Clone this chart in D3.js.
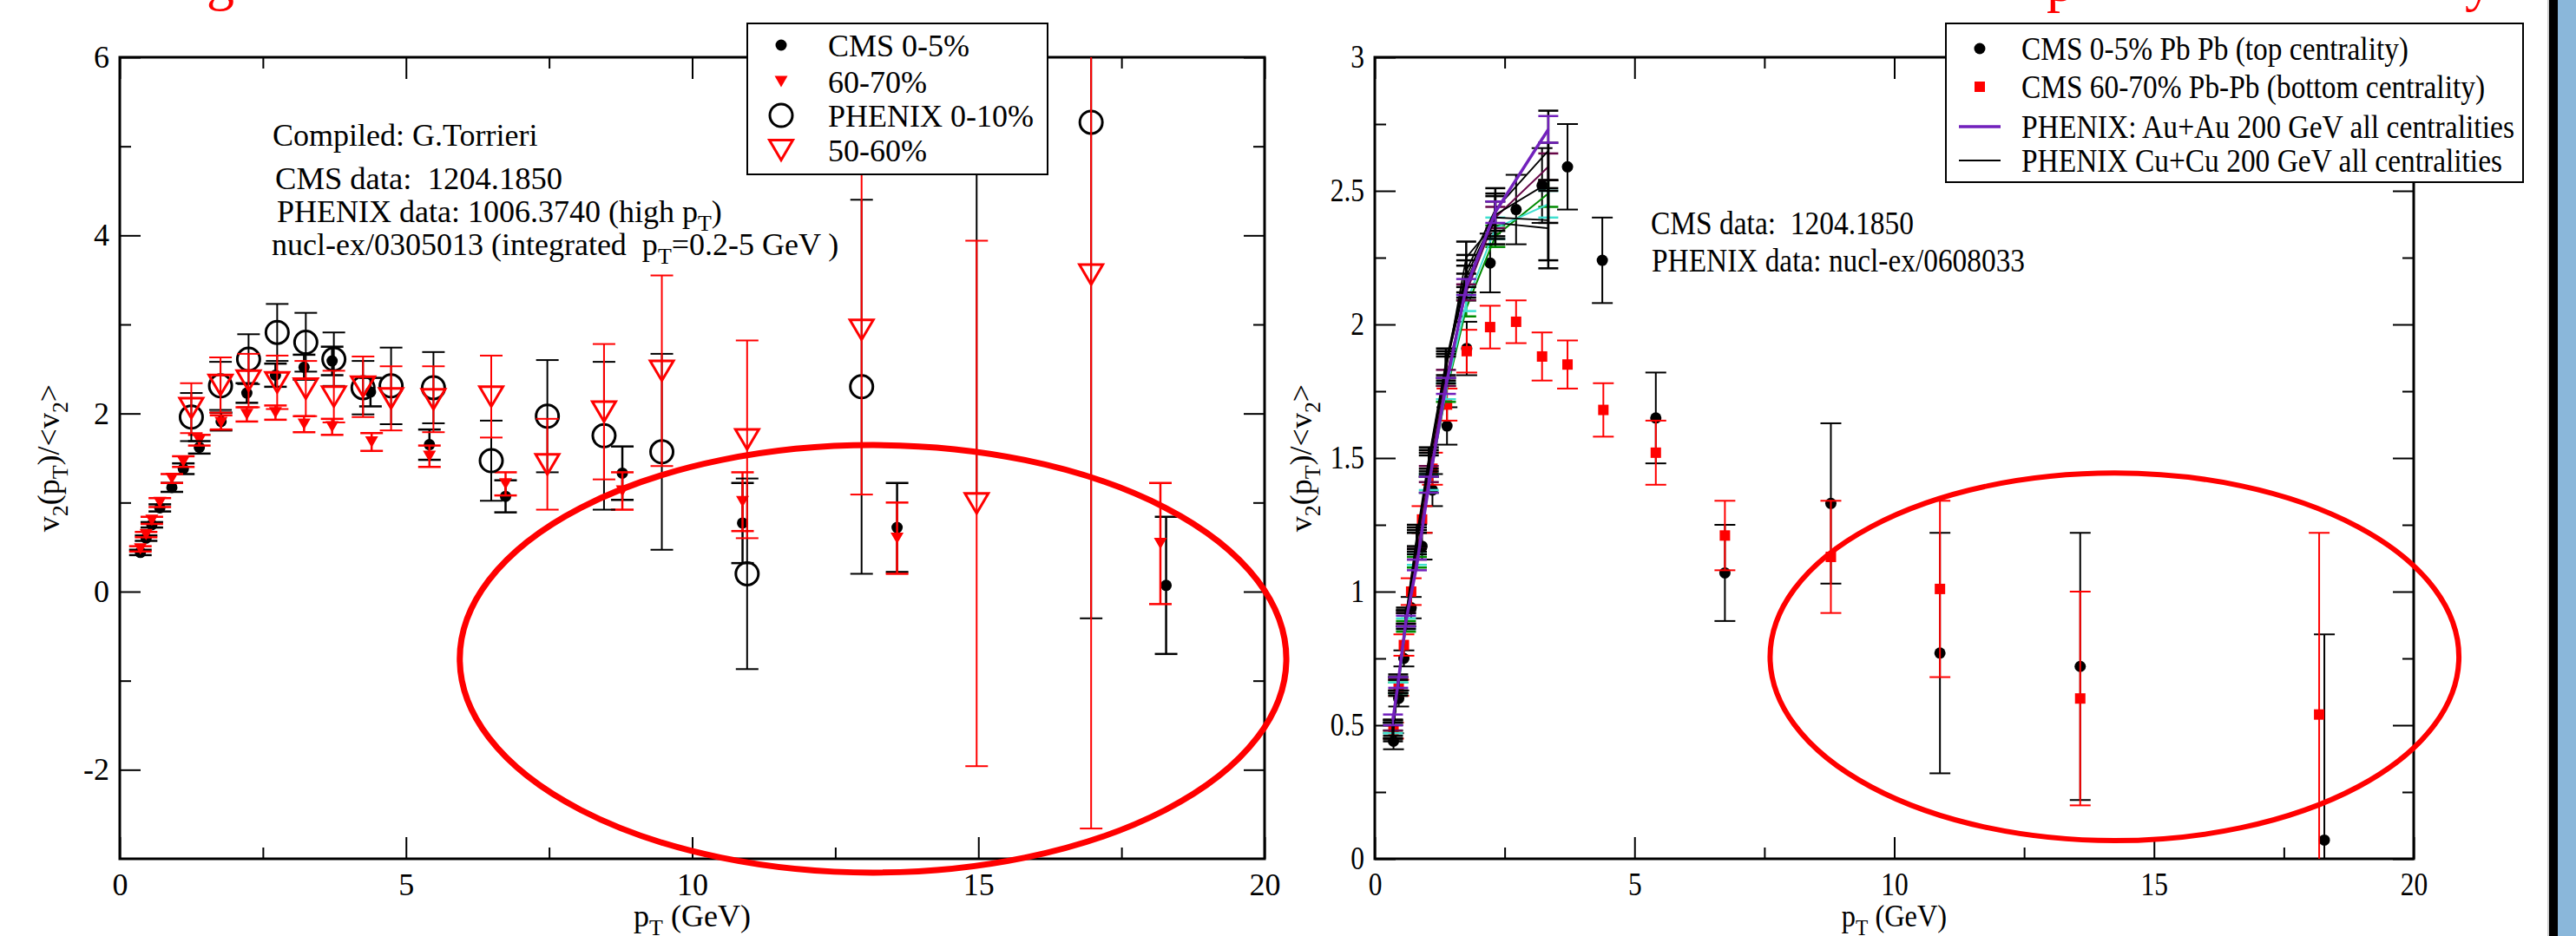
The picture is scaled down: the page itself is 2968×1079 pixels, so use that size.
<!DOCTYPE html>
<html>
<head>
<meta charset="utf-8">
<script src="https://cdn.jsdelivr.net/npm/d3@7"></script>
<style>
  body { margin: 0; background: #fff; }
  svg, svg text { font-family: "Liberation Serif", "Times New Roman", Times, "DejaVu Serif", serif; }
  text { white-space: pre; }
</style>
</head>
<body>
<svg id="chart" width="2968" height="1079" font-family="Liberation Serif"></svg>
<script>
'use strict';

// axis ticks
const xTicks = [0, 5, 10, 15, 20];
const xMinor = [2.5, 7.5, 12.5, 17.5];
const leftYTicks = [-2, 0, 2, 4, 6];
const leftYMinor = [-1, 1, 3, 5];
const rightYTicks = [0, 0.5, 1, 1.5, 2, 2.5, 3];
const rightYMinor = [0.25, 0.75, 1.25, 1.75, 2.25, 2.75];

// CMS points (same data in both panels)
const cmsPt = [0.36, 0.46, 0.56, 0.70, 0.91, 1.11, 1.39, 1.77, 2.22, 2.72, 3.22, 3.71, 4.38, 5.41, 6.74, 8.78, 10.88, 13.58, 18.28];
const cms05 = [0.44, 0.60, 0.75, 0.94, 1.17, 1.38, 1.62, 1.91, 2.23, 2.43, 2.52, 2.59, 2.24, 1.65, 1.07, 1.33, 0.77, 0.72, 0.07];
const cms05Err = [0.03, 0.03, 0.03, 0.04, 0.05, 0.06, 0.07, 0.10, 0.11, 0.13, 0.14, 0.16, 0.16, 0.17, 0.18, 0.30, 0.45, 0.50, 0.77];
const cms6070Pt = [0.36, 0.46, 0.56, 0.70, 0.91, 1.11, 1.39, 1.77, 2.22, 2.72, 3.22, 3.71, 4.40, 5.41, 6.74, 8.78, 10.88, 13.58, 18.18];
const cms6070 = [0.48, 0.64, 0.80, 1.00, 1.27, 1.46, 1.70, 1.90, 1.99, 2.01, 1.88, 1.85, 1.68, 1.52, 1.21, 1.13, 1.01, 0.60, 0.54];
const cms6070Err = [0.03, 0.03, 0.04, 0.05, 0.05, 0.06, 0.06, 0.08, 0.08, 0.08, 0.09, 0.09, 0.10, 0.12, 0.13, 0.21, 0.33, 0.40, 0.68];

// PHENIX (left panel)
const phxPt = [1.25, 1.76, 2.25, 2.75, 3.25, 3.74, 4.25, 4.74, 5.48, 6.49, 7.47, 8.46, 9.47, 10.96, 12.96, 14.97, 16.97];
const phx010 = [1.96, 2.31, 2.61, 2.91, 2.80, 2.61, 2.29, 2.31, 2.29, 1.47, 1.97, 1.75, 1.57, 0.20, 2.30, 7.50, 5.27];
const phx010Err = [0.27, 0.27, 0.28, 0.32, 0.33, 0.30, 0.30, 0.43, 0.40, 0.45, 0.63, 0.83, 1.10, 1.07, 2.10, 6.40, 5.57];
const phx5060 = [2.06, 2.32, 2.37, 2.35, 2.28, 2.19, 2.30, 2.17, 2.16, 2.19, 1.43, 2.02, 2.48, 1.71, 2.94, 0.99, 3.56];
const phx5060Err = [0.28, 0.31, 0.30, 0.30, 0.31, 0.29, 0.34, 0.36, 0.37, 0.46, 0.51, 0.76, 1.07, 1.11, 1.85, 2.95, 6.22];

// PHENIX centrality curves (right panel)
const curvePt = [0.35, 0.45, 0.60, 0.81, 1.04, 1.37, 1.76, 2.32, 3.34];
const auauIndigo = [0.52, 0.66, 0.89, 1.10, 1.40, 1.77, 2.14, 2.42, 2.73];
const auauMaroon = [0.50, 0.65, 0.90, 1.14, 1.44, 1.80, 2.12, 2.40, 2.59];
const auauTurq = [0.49, 0.64, 0.88, 1.12, 1.41, 1.75, 2.08, 2.36, 2.45];
const auauGreen = [0.50, 0.64, 0.87, 1.11, 1.40, 1.74, 2.06, 2.33, 2.49];
const auauErr = [0.02, 0.02, 0.02, 0.02, 0.03, 0.03, 0.03, 0.04, 0.05];
const cucuA = [0.48, 0.66, 0.91, 1.21, 1.50, 1.86, 2.20, 2.43, 2.65];
const cucuB = [0.49, 0.65, 0.90, 1.20, 1.48, 1.84, 2.18, 2.41, 2.53];
const cucuC = [0.47, 0.64, 0.90, 1.19, 1.47, 1.83, 2.25, 2.38, 2.36];
const cucuD = [0.48, 0.65, 0.89, 1.18, 1.49, 1.85, 2.16, 2.40, 2.39];
const cucuErr = [0.03, 0.03, 0.03, 0.04, 0.04, 0.05, 0.06, 0.08, 0.15];

const FONT = 'Liberation Serif';
const svg = d3.select('#chart');
const defs = svg.append('defs');

const xL = d3.scaleLinear().domain([0, 20]).range([138, 1457]);
const yL = d3.scaleLinear().domain([-3, 6]).range([990, 66]);
const xR = d3.scaleLinear().domain([0, 20]).range([1584, 2781]);
const yR = d3.scaleLinear().domain([0, 3]).range([990, 66]);

function clipFor(id, x, y) {
    defs.append('clipPath').attr('id', id).append('rect')
        .attr('x', x.range()[0]).attr('y', y.range()[1])
        .attr('width', x.range()[1] - x.range()[0])
        .attr('height', y.range()[0] - y.range()[1]);
}
clipFor('clipL', xL, yL);
clipFor('clipR', xR, yR);

// text with subscripts, parts = [[str, isSub], ...]
function richText(sel, parts, size) {
    let down = false;
    sel.attr('font-family', FONT);
    parts.forEach(function (p) {
        const t = sel.append('tspan').text(p[0]);
        if (p[1]) {
            t.attr('font-size', size * 0.72);
            if (!down) { t.attr('dy', size * 0.28); down = true; }
        } else if (down) {
            t.attr('dy', -size * 0.28);
            down = false;
        }
    });
}

// the right graph was squeezed sideways on the slide
function squeeze(sel, k) {
    sel.each(function () {
        const w = this.getComputedTextLength();
        d3.select(this).attr('textLength', w * k).attr('lengthAdjust', 'spacingAndGlyphs');
    });
}

function styleAxis(g, size) {
    g.select('.domain').remove();
    g.attr('font-family', FONT).attr('font-size', size);
    g.selectAll('.tick line').attr('stroke', '#000').attr('stroke-width', 2);
    g.selectAll('.tick text').attr('fill', '#000').attr('font-family', FONT);
}

function drawAxes(x, y, yMajor, yMinor, size, k) {
    const left = x.range()[0], right = x.range()[1], top = y.range()[1], bottom = y.range()[0];
    const fmt = function (d) { return String(d); };
    const g = svg.append('g');

    g.append('g').attr('transform', 'translate(0,' + bottom + ')')
        .call(d3.axisBottom(x).tickValues(xTicks).tickSize(-25).tickSizeOuter(0).tickPadding(16).tickFormat(fmt))
        .call(styleAxis, size);
    g.append('g').attr('transform', 'translate(0,' + bottom + ')')
        .call(d3.axisBottom(x).tickValues(xMinor).tickSize(-13).tickSizeOuter(0).tickFormat(''))
        .call(styleAxis, size);
    g.append('g').attr('transform', 'translate(0,' + top + ')')
        .call(d3.axisTop(x).tickValues(xTicks).tickSize(-25).tickSizeOuter(0).tickFormat(''))
        .call(styleAxis, size);
    g.append('g').attr('transform', 'translate(0,' + top + ')')
        .call(d3.axisTop(x).tickValues(xMinor).tickSize(-13).tickSizeOuter(0).tickFormat(''))
        .call(styleAxis, size);

    g.append('g').attr('transform', 'translate(' + left + ',0)')
        .call(d3.axisLeft(y).tickValues(yMajor).tickSize(-24).tickSizeOuter(0).tickPadding(12).tickFormat(fmt))
        .call(styleAxis, size);
    g.append('g').attr('transform', 'translate(' + left + ',0)')
        .call(d3.axisLeft(y).tickValues(yMinor).tickSize(-13).tickSizeOuter(0).tickFormat(''))
        .call(styleAxis, size);
    g.append('g').attr('transform', 'translate(' + right + ',0)')
        .call(d3.axisRight(y).tickValues(yMajor).tickSize(-24).tickSizeOuter(0).tickFormat(''))
        .call(styleAxis, size);
    g.append('g').attr('transform', 'translate(' + right + ',0)')
        .call(d3.axisRight(y).tickValues(yMinor).tickSize(-13).tickSizeOuter(0).tickFormat(''))
        .call(styleAxis, size);

    if (k !== 1) squeeze(g.selectAll('.tick text').filter(function () { return this.textContent !== ''; }), k);

    g.append('rect').attr('x', left).attr('y', top)
        .attr('width', right - left).attr('height', bottom - top)
        .attr('fill', 'none').attr('stroke', '#000').attr('stroke-width', 3);
}

function axisTitles(x, y, yTitleX, size, k) {
    const xt = svg.append('text').attr('x', (x.range()[0] + x.range()[1]) / 2).attr('y', 1068)
        .attr('text-anchor', 'middle').attr('font-size', size);
    richText(xt, [['p', false], ['T', true], [' (GeV)', false]], size);
    if (k !== 1) squeeze(xt, k);
    const yt = svg.append('text')
        .attr('transform', 'translate(' + yTitleX + ',' + (y.range()[0] + y.range()[1]) / 2 + ') rotate(-90)')
        .attr('text-anchor', 'middle').attr('font-size', size);
    richText(yt, [['v', false], ['2', true], ['(p', false], ['T', true], [')/<v', false], ['2', true], ['>', false]], size);
}

function rows(xs, ys, es) {
    return xs.map(function (d, i) { return [d, ys[i], es ? es[i] : 0]; });
}

function errorBars(g, x, y, data, color, cap, width) {
    const eb = g.append('g').attr('stroke', color).attr('stroke-width', width).attr('fill', 'none');
    const one = eb.selectAll(null).data(data).enter().append('g');
    one.append('line')
        .attr('x1', function (d) { return x(d[0]); }).attr('x2', function (d) { return x(d[0]); })
        .attr('y1', function (d) { return y(d[1] - d[2]); }).attr('y2', function (d) { return y(d[1] + d[2]); });
    [1, -1].forEach(function (s) {
        one.append('line')
            .attr('x1', function (d) { return x(d[0]) - cap / 2; }).attr('x2', function (d) { return x(d[0]) + cap / 2; })
            .attr('y1', function (d) { return y(d[1] + s * d[2]); }).attr('y2', function (d) { return y(d[1] + s * d[2]); });
    });
}

function triDown(w, h) {
    return 'M' + (-w / 2) + ',' + (-h / 2) + 'L' + (w / 2) + ',' + (-h / 2) + 'L0,' + (h / 2) + 'Z';
}

function markers(g, x, y, data, kind) {
    const sel = g.selectAll(null).data(data).enter();
    if (kind === 'dot') {
        sel.append('circle').attr('cx', function (d) { return x(d[0]); }).attr('cy', function (d) { return y(d[1]); })
            .attr('r', 6.5).attr('fill', '#000');
    } else if (kind === 'ring') {
        sel.append('circle').attr('cx', function (d) { return x(d[0]); }).attr('cy', function (d) { return y(d[1]); })
            .attr('r', 13).attr('fill', 'none').attr('stroke', '#000').attr('stroke-width', 3);
    } else if (kind === 'tri') {
        sel.append('path').attr('d', triDown(15, 13)).attr('fill', '#ff0000')
            .attr('transform', function (d) { return 'translate(' + x(d[0]) + ',' + y(d[1]) + ')'; });
    } else if (kind === 'otri') {
        sel.append('path').attr('d', triDown(27, 23)).attr('fill', 'none').attr('stroke', '#ff0000').attr('stroke-width', 3)
            .attr('transform', function (d) { return 'translate(' + x(d[0]) + ',' + y(d[1]) + ')'; });
    } else if (kind === 'square') {
        sel.append('rect').attr('x', function (d) { return x(d[0]) - 6; }).attr('y', function (d) { return y(d[1]) - 6; })
            .attr('width', 12).attr('height', 12).attr('fill', '#ff0000');
    }
}

// ---------- left panel ----------
drawAxes(xL, yL, leftYTicks, leftYMinor, 36, 1);
axisTitles(xL, yL, 68, 36, 1);

const plotL = svg.append('g').attr('clip-path', 'url(#clipL)');
const cms05Rows = rows(cmsPt, cms05, cms05Err);
const cms6070Rows = rows(cms6070Pt, cms6070, cms6070Err);
const phx010Rows = rows(phxPt, phx010, phx010Err);
const phx5060Rows = rows(phxPt, phx5060, phx5060Err);

errorBars(plotL, xL, yL, cms05Rows, '#000', 26, 2.5);
markers(plotL, xL, yL, cms05Rows, 'dot');
errorBars(plotL, xL, yL, cms6070Rows, '#ff0000', 26, 2.5);
markers(plotL, xL, yL, cms6070Rows, 'tri');
errorBars(plotL, xL, yL, phx010Rows, '#000', 26, 2);
markers(plotL, xL, yL, phx010Rows, 'ring');
errorBars(plotL, xL, yL, phx5060Rows, '#ff0000', 26, 2);
markers(plotL, xL, yL, phx5060Rows, 'otri');

// notes
const notesL = svg.append('g').attr('font-size', 36).attr('font-family', FONT).attr('fill', '#000');
notesL.append('text').attr('x', 314).attr('y', 168).attr('font-family', FONT).text('Compiled: G.Torrieri');
notesL.append('text').attr('x', 317).attr('y', 218).attr('font-family', FONT)
    .attr('textLength', 331).attr('lengthAdjust', 'spacingAndGlyphs')
    .text('CMS data:  1204.1850');
richText(notesL.append('text').attr('x', 319).attr('y', 256),
    [['PHENIX data: 1006.3740 (high p', false], ['T', true], [')', false]], 36);
richText(notesL.append('text').attr('x', 313).attr('y', 294),
    [['nucl-ex/0305013 (integrated  p', false], ['T', true], ['=0.2-5 GeV )', false]], 36);

// legend
const legL = svg.append('g');
legL.append('rect').attr('x', 861).attr('y', 27).attr('width', 346).attr('height', 174)
    .attr('fill', '#fff').attr('stroke', '#000').attr('stroke-width', 2);
const legLItems = [['CMS 0-5%', 'dot', 52], ['60-70%', 'tri', 94], ['PHENIX 0-10%', 'ring', 133], ['50-60%', 'otri', 173]];
legLItems.forEach(function (it) {
    const sx = d3.scaleLinear().domain([0, 1]).range([900, 901]);
    const sy = d3.scaleLinear().domain([0, 1]).range([it[2], it[2] + 1]);
    markers(legL, sx, sy, [[0, 0, 0]], it[1]);
    legL.append('text').attr('x', 954).attr('y', it[2]).attr('dy', '0.35em')
        .attr('font-family', FONT).attr('font-size', 36).text(it[0]);
});

// ---------- right panel ----------
drawAxes(xR, yR, rightYTicks, rightYMinor, 37, 0.85);
axisTitles(xR, yR, 1511, 36, 0.9);

const plotR = svg.append('g').attr('clip-path', 'url(#clipR)');
errorBars(plotR, xR, yR, cms05Rows, '#000', 24, 2);
markers(plotR, xR, yR, cms05Rows, 'dot');
errorBars(plotR, xR, yR, cms6070Rows, '#ff0000', 24, 2);
markers(plotR, xR, yR, cms6070Rows, 'square');

const curves = [
    [auauGreen, auauErr, '#008b00', 2],
    [auauTurq, auauErr, '#40e0d0', 2],
    [auauMaroon, auauErr, '#670748', 2],
    [cucuA, cucuErr, '#000', 1.8],
    [cucuB, cucuErr, '#000', 1.8],
    [cucuC, cucuErr, '#000', 1.8],
    [cucuD, cucuErr, '#000', 1.8],
    [auauIndigo, auauErr, '#7221bc', 3.5]
];
const line = d3.line().x(function (d) { return xR(d[0]); }).y(function (d) { return yR(d[1]); });
curves.forEach(function (c) {
    const data = rows(curvePt, c[0], c[1]);
    errorBars(plotR, xR, yR, data, c[2], 23, 2.5);
    plotR.append('path').datum(data).attr('d', line)
        .attr('fill', 'none').attr('stroke', c[2]).attr('stroke-width', c[3]);
});

const notesR = svg.append('g').attr('font-size', 37).attr('font-family', FONT).attr('fill', '#000');
notesR.append('text').attr('x', 1902).attr('y', 270).attr('font-family', FONT)
    .attr('textLength', 303).attr('lengthAdjust', 'spacingAndGlyphs')
    .text('CMS data:  1204.1850');
notesR.append('text').attr('x', 1903).attr('y', 313).attr('font-family', FONT)
    .attr('textLength', 430).attr('lengthAdjust', 'spacingAndGlyphs')
    .text('PHENIX data: nucl-ex/0608033');

const legR = svg.append('g');
legR.append('rect').attr('x', 2242).attr('y', 27).attr('width', 665).attr('height', 183)
    .attr('fill', '#fff').attr('stroke', '#000').attr('stroke-width', 2);
const legRItems = [
    ['CMS 0-5% Pb Pb (top centrality)', 'dot', 56, 446],
    ['CMS 60-70% Pb-Pb (bottom centrality)', 'square', 100, 534],
    ['PHENIX: Au+Au 200 GeV all centralities', '#7221bc', 146, 568],
    ['PHENIX Cu+Cu 200 GeV all centralities', '#000', 185, 554]
];
legRItems.forEach(function (it) {
    if (it[1] === 'dot' || it[1] === 'square') {
        const sx = d3.scaleLinear().domain([0, 1]).range([2281, 2282]);
        const sy = d3.scaleLinear().domain([0, 1]).range([it[2], it[2] + 1]);
        markers(legR, sx, sy, [[0, 0, 0]], it[1]);
    } else {
        legR.append('line').attr('x1', 2257).attr('x2', 2305).attr('y1', it[2]).attr('y2', it[2])
            .attr('stroke', it[1]).attr('stroke-width', it[1] === '#000' ? 2 : 3.5);
    }
    legR.append('text').attr('x', 2329).attr('y', it[2]).attr('dy', '0.35em')
        .attr('font-family', FONT).attr('font-size', 37)
        .attr('textLength', it[3]).attr('lengthAdjust', 'spacingAndGlyphs').text(it[0]);
});

// ---------- slide overlay ----------
const rings = [
    [xL, yL, 13.16, -0.755, 7.22, 2.40, 7],
    [xR, yR, 14.24, 0.756, 6.63, 0.688, 6]
];
rings.forEach(function (r) {
    const x = r[0], y = r[1];
    svg.append('ellipse')
        .attr('cx', x(r[2])).attr('cy', y(r[3]))
        .attr('rx', x(r[4]) - x(0)).attr('ry', y(0) - y(r[5]))
        .attr('fill', 'none').attr('stroke', '#ff0000').attr('stroke-width', r[6]);
});

// bottoms of the slide title letters, cut off by the top edge
const titleBits = svg.append('g').attr('fill', '#ff0000').attr('font-size', 64).attr('font-family', FONT);
titleBits.append('text').attr('x', 238).attr('y', -1).attr('font-family', FONT).text('g');
titleBits.append('text').attr('x', 2358).attr('y', 1).attr('font-family', FONT).text('p');
titleBits.append('text').attr('x', 2840).attr('y', 0).attr('font-family', FONT).text('y');

// side bar of the slide
svg.append('rect').attr('x', 2935).attr('y', 0).attr('width', 2).attr('height', 1079).attr('fill', '#ccc');
svg.append('rect').attr('x', 2937).attr('y', 0).attr('width', 10).attr('height', 1079).attr('fill', '#000');
svg.append('rect').attr('x', 2947).attr('y', 0).attr('width', 21).attr('height', 1079).attr('fill', '#8ab7da');
</script>
</body>
</html>
